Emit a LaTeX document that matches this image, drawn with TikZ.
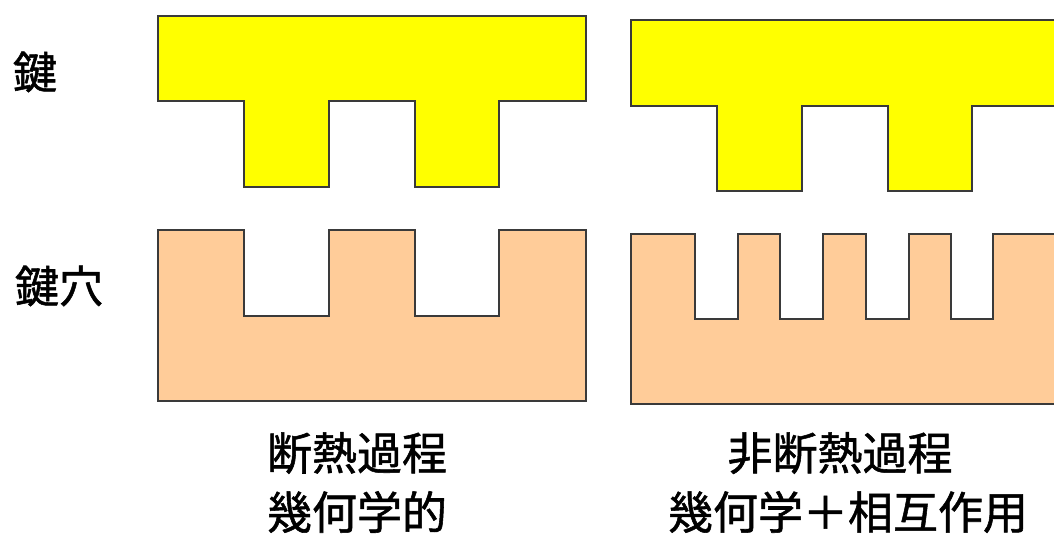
\documentclass[tikz,border=0pt]{standalone}
\usepackage{fontspec}
\newfontfamily\jpfont[FakeBold=1.2]{Noto Sans CJK JP}
\definecolor{keyyellow}{HTML}{FFFF00}
\definecolor{lockpeach}{HTML}{FFCC99}
\definecolor{edgegray}{HTML}{3A3A3A}
\begin{document}
\begin{tikzpicture}[x=1pt,y=-1pt,
  keyshape/.style={fill=keyyellow,draw=edgegray,line width=1.8pt,line join=miter},
  lockshape/.style={fill=lockpeach,draw=edgegray,line width=1.8pt,line join=miter},
  sidelabel/.style={font=\jpfont\fontsize{44}{50}\selectfont,inner sep=0pt},
  caption/.style={font=\jpfont\fontsize{45}{50}\selectfont,inner sep=0pt}]
\useasboundingbox (0,0) rectangle (1054,536);
\clip (0,0) rectangle (1054,536);
% left key
\draw[keyshape] (158,16) -- (586,16) -- (586,101) -- (499,101) -- (499,187) -- (415,187) -- (415,101) -- (329,101) -- (329,187) -- (244,187) -- (244,101) -- (158,101) -- cycle;
% right key
\draw[keyshape] (631,20) -- (1062,20) -- (1062,106) -- (972,106) -- (972,191) -- (888,191) -- (888,106) -- (802,106) -- (802,191) -- (717,191) -- (717,106) -- (631,106) -- cycle;
% left lock
\draw[lockshape] (158,230) -- (244,230) -- (244,316) -- (329,316) -- (329,230) -- (415,230) -- (415,316) -- (499,316) -- (499,230) -- (586,230) -- (586,401) -- (158,401) -- cycle;
% right lock
\draw[lockshape] (631,234) -- (695,234) -- (695,319) -- (738,319) -- (738,234) -- (780,234) -- (780,319) -- (823,319) -- (823,234) -- (866,234) -- (866,319) -- (909,319) -- (909,234) -- (951,234) -- (951,319) -- (993,319) -- (993,234) -- (1062,234) -- (1062,404) -- (631,404) -- cycle;
% labels
\node[sidelabel] (key) at (35,72) {鍵};
\node[sidelabel] (hole) at (59,286) {鍵穴};
\node[caption] (a1) at (357,453) {断熱過程};
\node[caption] (a2) at (357,512) {幾何学的};
\node[caption] (b1) at (840,453) {非断熱過程};
\node[caption] (b2) at (848,512) {幾何学＋相互作用};
\end{tikzpicture}
\end{document}
